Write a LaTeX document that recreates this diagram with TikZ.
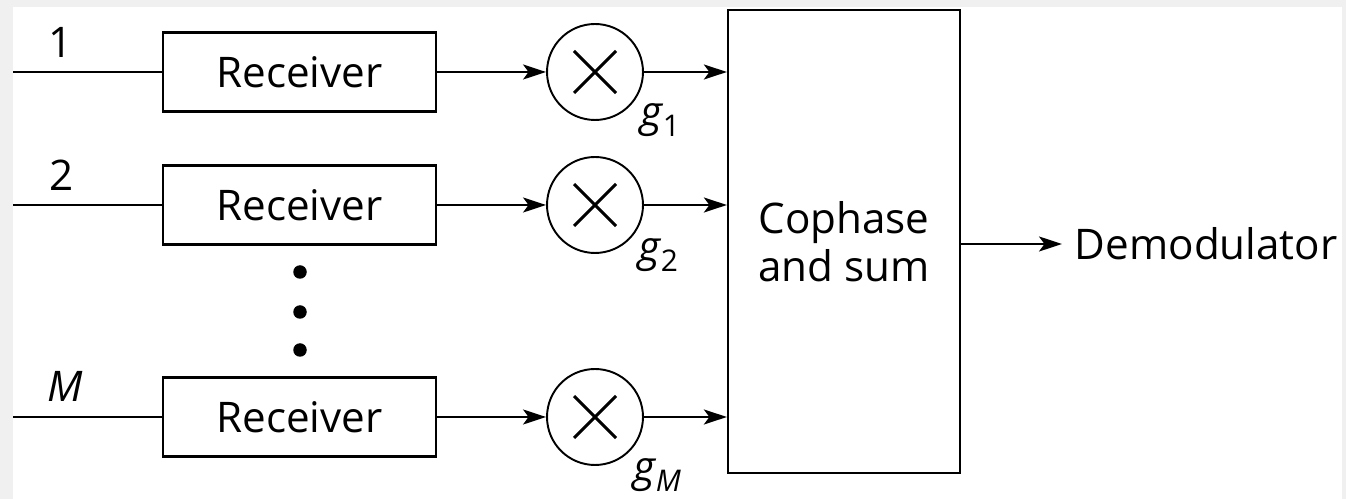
\documentclass[tikz,border=0pt]{standalone}
\usepackage{fontspec}
\setmainfont{Open Sans}
\usetikzlibrary{arrows.meta}

\newcommand{\gainlbl}[1]{{\itshape g}\raisebox{-0.22em}{\fontsize{17}{18}\selectfont #1}}

\begin{document}
\begin{tikzpicture}[x=0.02cm,y=-0.02cm,line width=1.1pt,
  >={Stealth[length=0.46cm,width=0.3cm,inset=0.11cm]},
  every node/.style={font=\fontsize{24}{27}\selectfont},
  recv/.style={draw,line width=1.3pt,minimum width=5.46cm,minimum height=1.58cm,inner sep=0pt},
  mix/.style={draw,circle,minimum size=1.92cm,inner sep=0pt,
    path picture={\draw[line width=1.8pt] (path picture bounding box.center)
      +(-21,-21) -- +(21,21) +(-21,21) -- +(21,-21);}},
  tag/.style={anchor=base,inner sep=0pt},
  gtag/.style={anchor=base west,inner sep=0pt}]
  \useasboundingbox (0,0) rectangle (1346,499);
  % fondo
  \fill[gray!12] (0,0) rectangle (1346,499);
  \fill[white] (13,7) rectangle (1342,499);
  % receptores
  \coordinate (i1) at (13,72);
  \coordinate (i2) at (13,205);
  \coordinate (iM) at (13,417);
  \node[recv] (r1) at (299.5,72) {Receiver};
  \node[recv] (r2) at (299.5,205) {Receiver};
  \node[recv] (rM) at (299.5,417) {Receiver};
  \node[tag] (n1) at (61,58) {1};
  \node[tag] (n2) at (62,191) {2};
  \node[tag] (nM) at (65,402) {\itshape M};
  \draw (i1) -- (r1);
  \draw (i2) -- (r2);
  \draw (iM) -- (rM);
  \fill (300,272) circle (0.135cm);
  \fill (300,312) circle (0.135cm);
  \fill (300,350) circle (0.135cm);
  % multiplicadores
  \node[mix] (m1) at (595,72) {};
  \node[mix] (m2) at (595,205) {};
  \node[mix] (mM) at (595,417) {};
  \node[gtag] (g1) at (640,127) {\gainlbl{1}};
  \node[gtag] (g2) at (638,262) {\gainlbl{2}};
  \node[gtag] (gM) at (633,482) {\gainlbl{\itshape M}};
  \draw[->] (r1) -- (m1);
  \draw[->] (r2) -- (m2);
  \draw[->] (rM) -- (mM);
  % combinador
  \node[draw,line width=1.3pt,minimum width=4.64cm,minimum height=9.26cm,align=center]
    (cs) at (844,241.5) {Cophase\\and sum};
  \draw[->] (m1) -- (m1 -| cs.west);
  \draw[->] (m2) -- (m2 -| cs.west);
  \draw[->] (mM) -- (mM -| cs.west);
  \node[anchor=west,inner sep=0pt] (dem) at (1074,244) {Demodulator};
  \draw[->,shorten >=0.24cm] (cs.east |- dem) -- (dem);
\end{tikzpicture}
\end{document}
